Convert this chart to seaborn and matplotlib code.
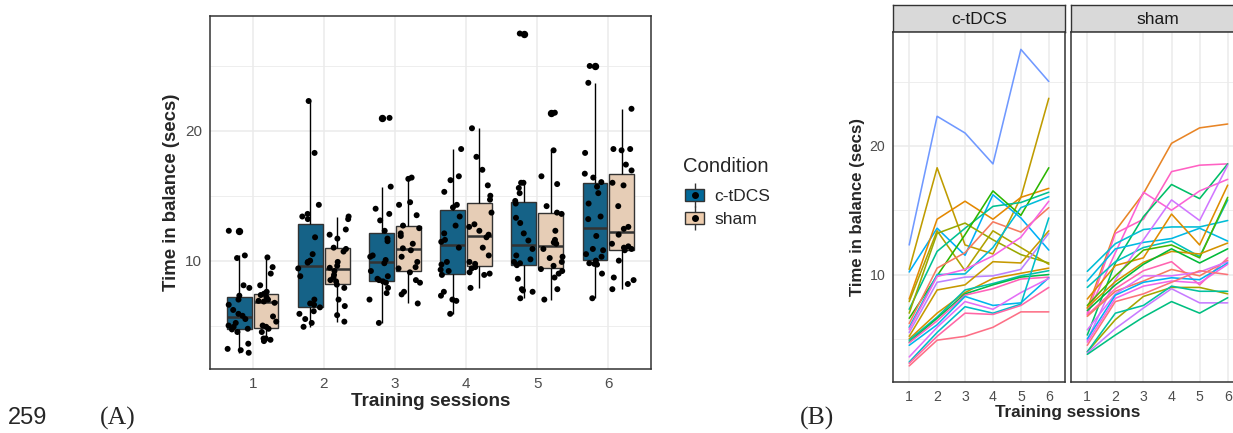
import numpy as np
import pandas as pd
import matplotlib
matplotlib.use("Agg")
import matplotlib.pyplot as plt
import seaborn as sns
from matplotlib.patches import Patch
from matplotlib.lines import Line2D


sessions = [1, 2, 3, 4, 5, 6]
conditions = ["c-tDCS", "sham"]

# Time in balance (secs), one entry per subject, same subject order in every list
ctdcs_s1 = [12.3, 10.4, 10.2, 8.1, 7.9, 7.3, 7.0, 6.6, 6.2, 5.9, 5.75, 5.5, 5.2, 5.0, 4.9, 4.75, 4.7, 4.5, 3.6, 3.2, 3.1, 2.9]
ctdcs_s2 = [22.3, 18.3, 13.6, 14.3, 13.4, 11.8, 13.2, 9.9, 10.5, 10.0, 9.85, 9.4, 8.8, 7.0, 6.7, 6.6, 6.4, 6.1, 5.9, 5.5, 5.2, 4.9]
ctdcs_s3 = [21.0, 12.3, 11.5, 15.7, 10.3, 13.6, 14.0, 13.1, 11.7, 10.05, 10.4, 9.8, 9.2, 8.6, 8.8, 8.5, 8.4, 8.3, 7.9, 7.5, 7.0, 5.2]
ctdcs_s4 = [18.6, 11.6, 16.2, 14.3, 13.4, 15.3, 12.7, 16.5, 14.1, 12.1, 11.45, 9.9, 11.0, 9.7, 9.3, 9.2, 8.9, 7.6, 7.3, 7.0, 6.9, 5.9]
ctdcs_s5 = [27.5, 16.0, 14.4, 16.0, 12.1, 15.6, 11.55, 14.6, 13.3, 15.2, 12.9, 10.4, 10.9, 10.1, 9.9, 9.8, 9.65, 7.8, 8.6, 7.7, 7.6, 7.1]
ctdcs_s6 = [25.0, 23.7, 11.9, 16.7, 10.8, 16.4, 10.9, 18.3, 15.2, 16.05, 15.7, 13.2, 13.4, 10.5, 10.3, 10.0, 9.8, 9.75, 9.7, 14.4, 9.0, 7.1]

sham_s1 = [7.35, 7.0, 5.3, 6.9, 10.25, 9.5, 9.0, 4.9, 8.1, 7.6, 7.45, 7.2, 6.85, 6.75, 5.7, 5.0, 4.75, 4.5, 4.0, 4.0, 3.9, 3.8]
sham_s2 = [13.4, 13.2, 10.9, 11.7, 12.4, 12.0, 11.0, 9.6, 10.7, 9.9, 9.45, 9.2, 8.9, 8.7, 8.5, 8.4, 8.15, 7.9, 6.5, 7.0, 5.8, 5.3]
sham_s3 = [16.3, 14.3, 14.5, 16.4, 13.5, 12.5, 12.1, 12.7, 11.3, 11.9, 10.95, 10.8, 10.3, 9.5, 9.9, 9.4, 9.1, 8.5, 8.3, 7.6, 7.4, 6.7]
sham_s4 = [20.2, 18.0, 17.0, 15.0, 13.7, 12.8, 12.6, 15.8, 14.7, 12.3, 11.8, 12.0, 11.0, 10.4, 9.9, 9.75, 9.5, 9.4, 9.0, 9.1, 8.9, 7.9]
sham_s5 = [21.4, 18.5, 15.9, 16.5, 13.7, 13.6, 11.4, 14.2, 12.3, 11.3, 11.6, 10.9, 9.2, 9.9, 10.2, 9.6, 9.35, 10.3, 9.0, 8.7, 7.8, 7.0]
sham_s6 = [21.7, 18.6, 18.6, 17.4, 14.2, 12.6, 15.8, 18.5, 16.95, 16.0, 12.45, 12.0, 11.3, 11.1, 11.0, 10.9, 10.8, 10.0, 8.5, 8.7, 7.8, 8.2]

# hue angle (ggplot hcl palette) of each subject's line in panel B
ctdcs_hues = [258, 70, 232, 40, 80, 168, 92, 125, 20, 208, 315, 280, 65, 55, 180, 140, 340, 222, 300, 198, 350, 5]
sham_hues = [35, 335, 150, 325, 205, 215, 190, 290, 45, 120, 55, 135, 345, 20, 295, 228, 310, 10, 85, 175, 285, 160]

box_colors = {"c-tDCS": "#02699A", "sham": "#EECDAE"}


def hcl(h, c=100, l=65):
    # polar CIE-Luv to sRGB, like R's hcl()
    h = np.deg2rad(h)
    u, v = c * np.cos(h), c * np.sin(h)
    xn, yn, zn = 95.047, 100.0, 108.883
    un = 4 * xn / (xn + 15 * yn + 3 * zn)
    vn = 9 * yn / (xn + 15 * yn + 3 * zn)
    y = yn * ((l + 16) / 116) ** 3
    up = u / (13 * l) + un
    vp = v / (13 * l) + vn
    x = y * 9 * up / (4 * vp)
    z = y * (12 - 3 * up - 20 * vp) / (4 * vp)
    m = np.array([[3.2404542, -1.5371385, -0.4985314],
                  [-0.9692660, 1.8760108, 0.0415560],
                  [0.0556434, -0.2040259, 1.0572252]])
    rgb = m @ (np.array([x, y, z]) / 100)
    rgb = np.clip(rgb, 0, 1)
    rgb = np.where(rgb <= 0.0031308, 12.92 * rgb, 1.055 * rgb ** (1 / 2.4) - 0.055)
    return tuple(np.clip(rgb, 0, 1))


def build_data():
    rows = []
    per_cond = {"c-tDCS": [ctdcs_s1, ctdcs_s2, ctdcs_s3, ctdcs_s4, ctdcs_s5, ctdcs_s6],
                "sham": [sham_s1, sham_s2, sham_s3, sham_s4, sham_s5, sham_s6]}
    offset = 0
    for cond in conditions:
        for s, values in zip(sessions, per_cond[cond]):
            for i, val in enumerate(values):
                rows.append({"subject": offset + i + 1, "Condition": cond, "session": s, "time": val})
        offset += len(per_cond[cond][0])
    return pd.DataFrame(rows)


W, H = 1233, 433
GRID = "#EBEBEB"
DARK = "#333333"


def px_axes(fig, x0, y0, x1, y1):
    return fig.add_axes([x0 / W, 1 - y1 / H, (x1 - x0) / W, (y1 - y0) / H])


def style_panel(ax, tick_size):
    ax.set_facecolor("white")
    ax.set_axisbelow(True)
    ax.set_ylim(1.65, 28.85)
    ax.set_yticks([10, 20])
    ax.set_yticks([5, 15, 25], minor=True)
    ax.grid(which="major", color=GRID, linewidth=1.1)
    ax.grid(which="minor", axis="y", color=GRID, linewidth=0.6)
    for sp in ax.spines.values():
        sp.set_color(DARK)
        sp.set_linewidth(1.1)
    ax.tick_params(which="major", length=3.5, width=1, color=DARK, labelcolor="#4D4D4D",
                   labelsize=tick_size, pad=2)
    ax.tick_params(which="minor", length=0)


def plot_boxes(fig, df):
    ax = px_axes(fig, 210, 16, 651, 369)
    sns.boxplot(data=df, x="session", y="time", hue="Condition", hue_order=conditions,
                palette=box_colors, width=0.75, gap=0.07, linecolor=DARK, linewidth=1.0,
                showcaps=False, medianprops=dict(linewidth=1.8),
                whiskerprops=dict(color="black"),
                flierprops=dict(marker="o", markerfacecolor="black", markeredgecolor="black",
                                markersize=4.3),
                legend=False, ax=ax)
    np.random.seed(7)
    sns.stripplot(data=df, x="session", y="time", hue="Condition", hue_order=conditions,
                  palette=["black", "black"], dodge=True, jitter=0.32, size=4.3,
                  legend=False, zorder=3, ax=ax)
    style_panel(ax, 11)
    ax.set_xlim(-0.6, 5.6)
    ax.set_xticks(range(6))
    ax.set_xticklabels([str(s) for s in sessions])
    ax.set_xlabel("Training sessions", fontsize=13.6, fontweight="bold", labelpad=2)
    ax.set_ylabel("Time in balance (secs)", fontsize=13.4, fontweight="bold", labelpad=4)

    # legend: title as plain text, keys drawn as box glyphs
    fig.text(683 / W, 1 - 167 / H, "Condition", ha="left", va="center", fontsize=14.6)
    handles = []
    for cond in conditions:
        handles.append((Line2D([], [], marker="|", markersize=17, color=DARK, linestyle="none"),
                        Patch(facecolor=box_colors[cond], edgecolor=DARK, linewidth=1.0),
                        Line2D([], [], marker="o", markersize=4, color="black", linestyle="none")))
    fig.legend(handles, conditions, loc="center left",
               bbox_to_anchor=(685 / W, 1 - 208 / H), frameon=False, fontsize=12.5,
               handlelength=1.1, handleheight=0.7, labelspacing=0.42, handletextpad=0.6,
               borderpad=0, borderaxespad=0)


def plot_lines(fig, df):
    colors = {}
    for i, h in enumerate(ctdcs_hues):
        colors[i + 1] = hcl(h)
    for i, h in enumerate(sham_hues):
        colors[len(ctdcs_hues) + i + 1] = hcl(h)

    panels = {"c-tDCS": (893, 1065), "sham": (1071, 1244)}
    axes = []
    for cond in conditions:
        x0, x1 = panels[cond]
        strip = px_axes(fig, x0, 5, x1, 32)
        strip.set_facecolor("#D9D9D9")
        strip.set_xticks([])
        strip.set_yticks([])
        for sp in strip.spines.values():
            sp.set_color(DARK)
            sp.set_linewidth(1.0)
        strip.text(0.5, 0.45, cond, ha="center", va="center", fontsize=12.5,
                   color="#1A1A1A", transform=strip.transAxes)

        ax = px_axes(fig, x0, 32, x1, 382)
        sub = df[df["Condition"] == cond]
        sns.lineplot(data=sub, x="session", y="time", hue="subject", palette=colors,
                     estimator=None, legend=False, linewidth=1.15, ax=ax)
        style_panel(ax, 10.2)
        ax.set_xlim(0.42, 6.58)
        ax.set_xticks(sessions)
        ax.set_xlabel("")
        ax.set_ylabel("")
        axes.append(ax)

    axes[0].set_ylabel("Time in balance (secs)", fontsize=12.1, fontweight="bold", labelpad=3)
    axes[1].tick_params(axis="y", which="both", length=0, labelleft=False)
    fig.text(1068 / W, 1 - 413 / H, "Training sessions", ha="center", va="center",
             fontsize=12.3, fontweight="bold")


def main():
    sns.set_theme(style="white")
    plt.rcParams["font.family"] = ["Liberation Sans", "DejaVu Sans"]
    df = build_data()
    fig = plt.figure(figsize=(W / 100, H / 100), dpi=100)
    fig.patch.set_facecolor("white")
    plot_boxes(fig, df)
    plot_lines(fig, df)
    fig.text(8 / W, 1 - 418 / H, "259", ha="left", va="center", fontsize=17,
             family=["Liberation Sans", "DejaVu Sans"])
    fig.text(100 / W, 1 - 418 / H, "(A)", ha="left", va="center", fontsize=18.5,
             family="Liberation Serif")
    fig.text(800 / W, 1 - 418 / H, "(B)", ha="left", va="center", fontsize=18.5,
             family="Liberation Serif")
    fig.savefig("out.png", dpi=100)


if __name__ == "__main__":
    main()
